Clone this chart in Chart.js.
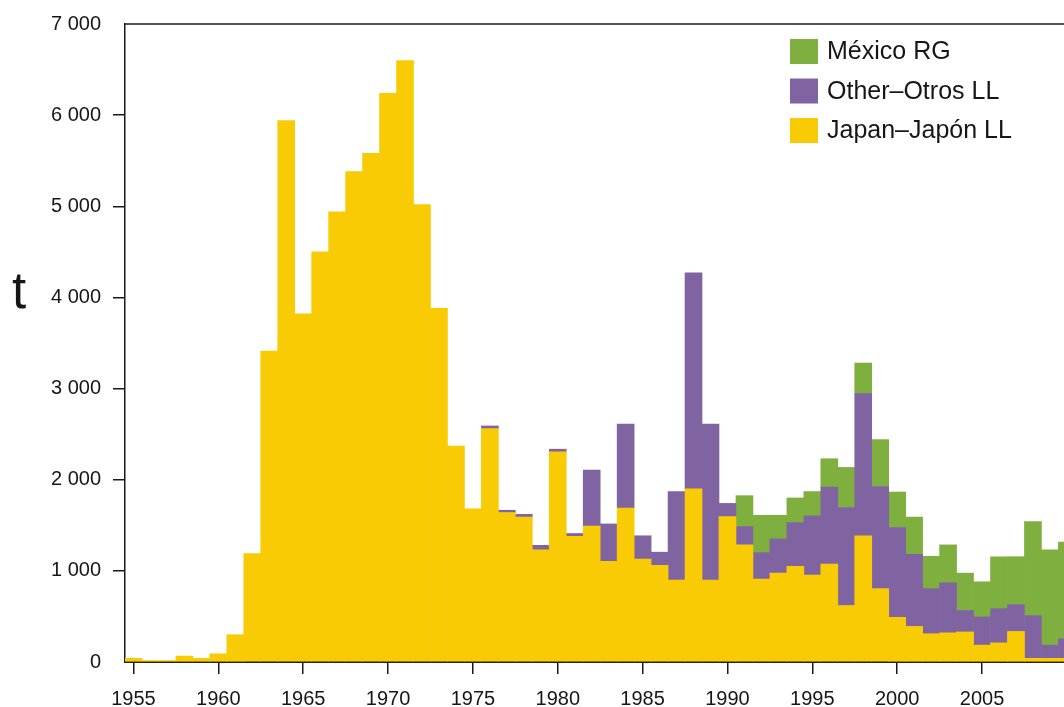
<!DOCTYPE html>
<html>
<head>
<meta charset="utf-8">
<script src="https://cdn.jsdelivr.net/npm/chart.js@4.4.1/dist/chart.umd.min.js"></script>
<style>
  html, body { margin: 0; padding: 0; background: #ffffff; overflow: hidden; }
  canvas { display: block; }
</style>
</head>
<body>
<canvas id="c" width="1064" height="707"></canvas>
<script>
// ---- data (t) ----
const YEARS = [1955,1956,1957,1958,1959,1960,1961,1962,1963,1964,
               1965,1966,1967,1968,1969,1970,1971,1972,1973,1974,
               1975,1976,1977,1978,1979,1980,1981,1982,1983,1984,
               1985,1986,1987,1988,1989,1990,1991,1992,1993,1994,
               1995,1996,1997,1998,1999,2000,2001,2002,2003,2004,
               2005,2006,2007,2008,2009,2010];

const JAPAN = [40,15,15,65,40,90,300,1190,3410,5940,
               3820,4500,4940,5380,5580,6240,6600,5020,3880,2370,
               1680,2560,1640,1590,1230,2305,1380,1490,1105,1690,
               1130,1060,900,1900,900,1595,1285,910,975,1050,
               955,1075,620,1385,805,490,390,310,320,330,
               185,210,335,40,40,40];

const OTHER = [null,null,null,null,null,null,null,null,null,null,
               null,null,null,null,null,null,null,null,null,null,
               null,30,25,30,50,30,30,615,410,920,
               255,145,970,2370,1710,145,200,290,375,480,
               650,845,1075,1560,1120,985,790,495,550,235,
               310,375,295,470,145,215];

const MEXICO = [null,null,null,null,null,null,null,null,null,null,
                null,null,null,null,null,null,null,null,null,null,
                null,null,null,null,null,null,null,null,null,null,
                null,null,null,null,null,null,340,410,260,270,
                265,310,440,335,515,390,410,355,415,410,
                385,570,525,1030,1045,1060];

const SERIES_LABELS = ['Japan\u2013Jap\u00f3n LL', 'Other\u2013Otros LL', 'M\u00e9xico RG'];
const SERIES_COLORS = ['#F9CB05', '#8064A2', '#7FB03F'];
const X_TICKS = [1955,1960,1965,1970,1975,1980,1985,1990,1995,2000,2005];
const Y_MIN = 0, Y_MAX = 7000, Y_STEP = 1000;
const Y_TITLE = 't';

// ---- helpers ----
const FONT = '"Liberation Sans", Arial, Helvetica, sans-serif';
const TEXT = '#161616';
function fmtThousands(v) {
  if (v >= 1000) return Math.floor(v / 1000) + ' ' + String(v % 1000).padStart(3, '0');
  return String(v);
}
function toPoints(values) {
  return YEARS.map((yr, i) => ({ x: yr, y: values[i] }));
}

const framePlugin = {
  id: 'frameAndLegend',
  afterDraw(chart) {
    const { ctx, chartArea } = chart;
    ctx.save();
    // top frame line
    ctx.strokeStyle = '#1a1a1a';
    ctx.lineWidth = 1.5;
    ctx.beginPath();
    ctx.moveTo(chartArea.left, chartArea.top);
    ctx.lineTo(chartArea.right, chartArea.top);
    ctx.stroke();

    // upright axis unit label
    ctx.fillStyle = TEXT;
    ctx.font = '51px ' + FONT;
    ctx.textAlign = 'center';
    ctx.textBaseline = 'middle';
    ctx.fillText(Y_TITLE, 19, 294);

    // legend inside plot, top-right (top series first)
    const ds = chart.data.datasets.slice().reverse();
    const bx = 790, bw = 28, bh = 25, top0 = 39, step = 39.5;
    ctx.font = '25px ' + FONT;
    ctx.textAlign = 'left';
    ctx.textBaseline = 'middle';
    ds.forEach((d, i) => {
      const y = top0 + i * step;
      ctx.fillStyle = d.backgroundColor;
      ctx.fillRect(bx, y, bw, bh);
      ctx.fillStyle = TEXT;
      ctx.fillText(d.label, bx + 37, y + bh / 2 + 1);
    });
    ctx.restore();
  }
};

new Chart(document.getElementById('c'), {
  type: 'bar',
  data: {
    datasets: [
      { label: SERIES_LABELS[0], data: toPoints(JAPAN),  backgroundColor: SERIES_COLORS[0] },
      { label: SERIES_LABELS[1], data: toPoints(OTHER),  backgroundColor: SERIES_COLORS[1] },
      { label: SERIES_LABELS[2], data: toPoints(MEXICO), backgroundColor: SERIES_COLORS[2] }
    ]
  },
  options: {
    responsive: false,
    animation: false,
    devicePixelRatio: 1,
    layout: { padding: { top: 20, right: 0, bottom: 0, left: 0 } },
    datasets: { bar: { barPercentage: 1, categoryPercentage: 1, borderWidth: 0 } },
    plugins: { legend: { display: false }, tooltip: { enabled: false } },
    scales: {
      x: {
        type: 'linear',
        stacked: true,
        offset: false,
        min: YEARS[0] - 0.5,
        max: 2009.83,
        afterBuildTicks: (s) => { s.ticks = X_TICKS.map(v => ({ value: v })); },
        afterFit: (s) => { s.height = 45; },
        ticks: {
          autoSkip: false, maxRotation: 0, padding: 13,
          callback: (v) => String(v),
          font: { family: FONT, size: 20 }, color: TEXT
        },
        grid: { offset: false, drawOnChartArea: false, drawTicks: true, tickLength: 12, color: '#1a1a1a', lineWidth: 1.5 },
        border: { display: true, color: '#2a2414', width: 2 }
      },
      y: {
        stacked: true,
        min: Y_MIN, max: Y_MAX,
        afterFit: (s) => { s.width = 125; },
        ticks: {
          stepSize: Y_STEP, padding: 12,
          callback: (v) => fmtThousands(v),
          font: { family: FONT, size: 20 }, color: TEXT
        },
        grid: {
          drawOnChartArea: false, drawTicks: true, tickLength: 12, lineWidth: 1.5,
          color: (c) => (c.tick && (c.tick.value === Y_MIN || c.tick.value === Y_MAX)) ? 'rgba(0,0,0,0)' : '#1a1a1a'
        },
        border: { display: true, color: '#1a1a1a', width: 1.5 }
      }
    }
  },
  plugins: [framePlugin]
});
</script>
</body>
</html>
